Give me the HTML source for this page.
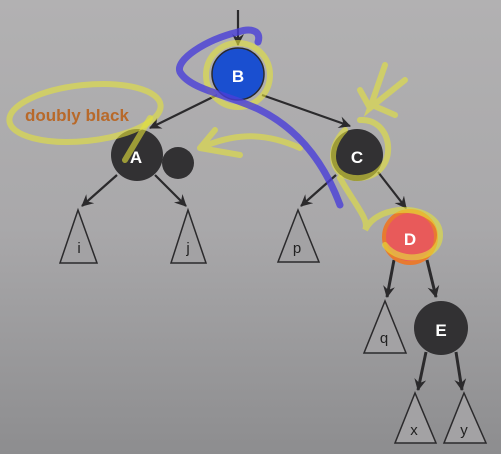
<!DOCTYPE html>
<html><head><style>
html,body{margin:0;padding:0}
body{width:501px;height:454px;overflow:hidden;background:linear-gradient(180deg,#b2b1b2 0%,#a9a8aa 50%,#8d8d8f 100%)}
svg{display:block}
text{font-family:"Liberation Sans",sans-serif}
</style></head><body>
<svg width="501" height="454" viewBox="0 0 501 454">
<defs>
<marker id="ah" markerWidth="14" markerHeight="14" refX="11" refY="6" orient="auto" markerUnits="userSpaceOnUse">
<path d="M0,0 L12,6 L0,12 L4,6 Z" fill="#2b2a2c"/>
</marker>
</defs>
<g stroke="#2b2a2c" stroke-width="2.2" fill="none" marker-end="url(#ah)">
<line x1="238" y1="10" x2="238" y2="45"/>
<line x1="217" y1="95" x2="150" y2="128"/>
<line x1="262" y1="95" x2="350" y2="126"/>
<line x1="117" y1="175" x2="82" y2="206"/>
<line x1="155" y1="175" x2="186" y2="206"/>
<line x1="336" y1="175" x2="301" y2="206"/>
<line x1="378" y1="172" x2="406" y2="208"/>
<line x1="394" y1="260" x2="387" y2="297" stroke-width="3"/>
<line x1="427" y1="260" x2="436" y2="297" stroke-width="3"/>
<line x1="426" y1="352" x2="418" y2="390" stroke-width="3"/>
<line x1="456" y1="352" x2="462" y2="390" stroke-width="3"/>
</g>
<g fill="#a3a2a4" stroke="#2b2a2c" stroke-width="1.5">
<polygon points="78,210 60,263 97,263"/>
<polygon points="188,210 171,263 206,263"/>
<polygon points="298,210 278,262 319,262"/>
<polygon points="385,301 364,353 406,353"/>
<polygon points="415,393 395,443 436,443"/>
<polygon points="464,393 444,443 486,443"/>
</g>
<g font-size="15" fill="#222" text-anchor="middle">
<text x="79" y="253">i</text><text x="188" y="253">j</text><text x="297" y="253">p</text>
<text x="384" y="343">q</text><text x="414" y="435">x</text><text x="464" y="435">y</text>
</g>
<circle cx="238" cy="74" r="26" fill="#1a4fd0" stroke="#2b2a2c" stroke-width="1.5"/>
<circle cx="137" cy="155" r="26" fill="#323133"/>
<circle cx="178" cy="163" r="16" fill="#323133"/>
<circle cx="357" cy="155" r="26" fill="#323133"/>
<circle cx="410" cy="237" r="26" fill="#e85a5a" stroke="#e87a30" stroke-width="4"/>
<circle cx="441" cy="328" r="27" fill="#323133"/>
<g font-size="17" fill="#fff" text-anchor="middle" font-weight="bold">
<text x="238" y="82">B</text><text x="136" y="163">A</text><text x="357" y="163">C</text>
<text x="410" y="245">D</text><text x="441" y="336">E</text>
</g>
<g fill="none" stroke="#e4e23a" stroke-opacity="0.6" stroke-width="6" stroke-linecap="round">
<ellipse cx="85" cy="113" rx="76" ry="28" transform="rotate(-6 85 113)"/>
<path d="M150,118 L125,160"/>
<circle cx="238" cy="75" r="32"/>
<path d="M300,148 C260,130 230,135 200,148 M200,148 L215,130 M200,148 L240,155"/>
<path d="M385,65 L370,108 L405,80 M370,108 L360,90 M372,105 L395,115"/>
<path d="M360,120 C395,118 400,175 360,178 C330,180 325,150 345,130"/>
<path d="M340,178 C355,205 370,220 365,230 C380,200 440,205 440,235 C440,260 400,265 385,245"/>
</g>
<path d="M258,42 C262,30 250,28 238,32 C205,40 175,60 180,72 C190,90 230,95 260,110 C300,130 325,165 340,205" fill="none" stroke="#4a3ed8" stroke-opacity="0.8" stroke-width="7" stroke-linecap="round"/>
<text x="25" y="121" font-size="17" fill="#b8692a" font-weight="bold">doubly black</text>
</svg>
</body></html>
